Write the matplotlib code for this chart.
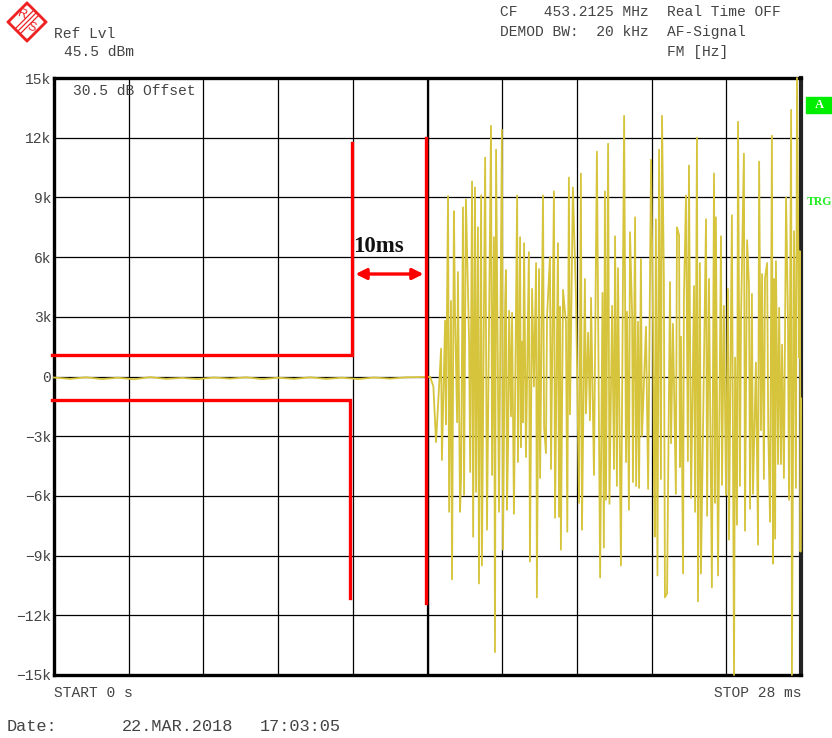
import numpy as np
import matplotlib.pyplot as plt
from matplotlib.patches import Polygon, Rectangle

# ── data (time in ms, deviation in kHz) ──────────────────────────────────────
quiet_t = [0.0, 0.6, 1.2, 1.8, 2.4, 3.0, 3.6, 4.2, 4.8, 5.4, 6.0, 6.6, 7.2,
           7.8, 8.4, 9.0, 9.6, 10.2, 10.8, 11.4, 12.0, 12.6, 13.2, 13.6, 14.1]
quiet_v = [-0.05, -0.12, -0.04, -0.13, -0.06, -0.14, -0.03, -0.12, -0.07,
           -0.13, -0.05, -0.11, -0.04, -0.13, -0.06, -0.12, -0.04, -0.12,
           -0.06, -0.13, -0.05, -0.11, -0.04, -0.03, -0.02]

pos_t = [14.51, 14.66, 14.77, 14.88, 14.99, 15.03, 15.14, 15.33, 15.44, 15.56,
         15.67, 15.78, 15.89, 16.01, 16.16, 16.38, 16.49, 16.57, 16.79, 16.91,
         16.94, 17.06, 17.17, 17.36, 17.47, 17.54, 17.62, 17.80, 17.92, 18.07,
         18.18, 18.33, 18.48, 18.59, 18.74, 18.89, 18.97, 19.08, 19.19, 19.30,
         19.45, 19.57, 19.75, 19.90, 20.02, 20.13, 20.35, 20.56, 20.65, 20.77,
         20.92, 21.03, 21.14, 21.37, 21.48, 21.59, 21.67, 21.78, 21.89, 22.00,
         22.19, 22.38, 22.45, 22.56, 22.68, 22.79, 22.86, 23.09, 23.20, 23.35,
         23.43, 23.50, 23.61, 23.69, 23.80, 23.99, 24.10, 24.21, 24.44, 24.55,
         24.74, 24.81, 25.00, 25.11, 25.26, 25.41, 25.53, 25.64, 25.75, 25.86,
         25.98, 26.05, 26.16, 26.31, 26.43, 26.54, 26.65, 26.73, 26.91, 26.99,
         27.06, 27.18, 27.29, 27.44, 27.51, 27.63, 27.74, 27.85, 27.93, 27.96]
pos_v = [1.4, 2.8, 9.07, 3.8, 8.3, 3.3, 5.25, 8.5, 8.9, 1.7,
         9.8, 9.5, 7.5, 9.1, 11.0, 12.6, 7.0, 11.4, 12.4, 3.7,
         5.35, 3.3, 3.2, 9.1, 7.0, 1.75, 6.7, 6.25, 4.4, 5.7,
         5.4, 9.1, 3.0, 6.0, 9.3, 6.7, 3.5, 4.35, 2.7, 10.0,
         9.5, 3.75, 10.2, 4.9, 2.2, 3.95, 11.3, 4.2, 9.3, 11.7,
         3.55, 7.05, 5.45, 13.1, 3.25, 7.25, 3.1, 8.0, 2.75, 5.9,
         2.5, 10.9, 3.2, 7.9, 11.4, 13.1, 4.9, 4.75, 2.65, 7.5,
         7.1, 2.0, 3.8, 9.1, 10.6, 4.55, 12.0, 5.7, 7.9, 4.9,
         10.2, 8.0, 7.05, 3.55, 4.4, 8.1, 0.95, 12.8, 2.75, 11.2,
         6.85, 4.6, 4.15, 0.7, 10.8, 5.15, 4.95, 5.7, 12.1, 4.9,
         5.8, 3.45, 1.6, 9.0, 3.0, 13.4, 7.3, 15.0, 0.95, 6.3]

neg_t = [14.22, 14.32, 14.54, 14.69, 14.81, 14.92, 15.11, 15.22, 15.26, 15.37,
         15.60, 15.71, 15.82, 15.93, 16.04, 16.23, 16.42, 16.53, 16.68, 16.83,
         16.98, 17.02, 17.13, 17.24, 17.39, 17.50, 17.58, 17.69, 17.84, 17.99,
         18.10, 18.22, 18.37, 18.44, 18.63, 18.78, 18.93, 19.00, 19.24, 19.34,
         19.68, 19.79, 19.94, 20.09, 20.24, 20.47, 20.61, 20.69, 20.82, 20.99,
         21.10, 21.25, 21.44, 21.55, 21.70, 21.82, 21.93, 22.04, 22.27, 22.49,
         22.52, 22.62, 22.75, 22.90, 22.98, 23.13, 23.31, 23.46, 23.58, 23.76,
         23.88, 24.03, 24.14, 24.25, 24.48, 24.66, 24.78, 24.89, 25.04, 25.19,
         25.30, 25.49, 25.60, 25.71, 25.90, 26.09, 26.20, 26.39, 26.50, 26.61,
         26.77, 26.84, 26.95, 27.03, 27.14, 27.25, 27.36, 27.55, 27.66, 27.81,
         27.98, 28.0]
neg_v = [-0.5, -3.3, -4.2, -2.4, -6.8, -10.2, -2.3, -6.8, -5.05, -5.95,
         -4.8, -8.05, -5.8, -10.4, -9.5, -7.7, -4.95, -13.85, -6.8, -8.7,
         -6.7, -3.55, -2.0, -6.9, -4.3, -3.55, -2.3, -4.05, -9.3, -0.5,
         -11.1, -5.1, -2.55, -3.85, -4.65, -7.1, -7.05, -8.7, -7.8, -1.9,
         -6.35, -7.7, -1.85, -2.2, -4.95, -10.1, -8.6, -6.2, -6.4, -4.65,
         -5.5, -9.5, -4.3, -6.7, -5.3, -5.5, -5.6, -3.0, -5.65, -5.2,
         -8.05, -10.0, -5.15, -11.1, -10.9, -3.35, -5.9, -4.55, -9.9, -4.25,
         -6.1, -6.8, -11.3, -9.9, -7.0, -10.6, -6.35, -10.0, -5.45, -5.95,
         -8.2, -15.0, -7.45, -5.5, -7.75, -6.65, -5.9, -8.45, -2.7, -5.15,
         -2.45, -7.3, -9.4, -8.15, -4.4, -4.4, -5.1, -6.2, -15.0, -5.6,
         -8.8, -1.1]

# red limit lines / markers (ms, kHz)
upper_t = [-0.07, 11.17, 11.17]
upper_v = [1.08, 1.08, 11.73]
lower_t = [-0.07, 11.09, 11.09]
lower_v = [-1.18, -1.18, -11.13]
mark2_t = [13.94, 13.94]
mark2_v = [12.0, -11.38]
arrow_t = (11.30, 13.85)
arrow_v = 5.15

yticks = [15, 12, 9, 6, 3, 0, -3, -6, -9, -12, -15]
ylabels = ['15k', '12k', '9k', '6k', '3k', '0',
           '\u22123k', '\u22126k', '\u22129k', '\u221212k', '\u221215k']

W, H = 832, 738
MONO = 'Liberation Mono'
TXT = '#444444'
TRACE = '#d6c43c'


def fx(px):
    return px / W


def fy(py):
    return 1 - py / H


fig = plt.figure(figsize=(W / 100, H / 100), dpi=100)
ax = fig.add_axes([fx(54), fy(675), fx(801) - fx(54), fy(78) - fy(675)])
ax.set_xlim(0, 28)
ax.set_ylim(-15, 15)

# grid
ax.set_xticks(np.linspace(0, 28, 11))
ax.set_yticks(yticks)
ax.set_yticklabels(ylabels, family=MONO, fontsize=10.5, color=TXT)
ax.tick_params(axis='y', length=0, pad=2)
ax.tick_params(axis='x', length=0, labelbottom=False)
ax.grid(True, color='black', lw=0.9)
ax.axvline(14, color='black', lw=1.6, zorder=1)
for s in ['left', 'top', 'bottom']:
    ax.spines[s].set_linewidth(2.4)
ax.spines['right'].set_linewidth(3.0)
ax.spines['right'].set_color('#222222')

# trace
tr_t = np.array(quiet_t + pos_t + neg_t)
tr_v = np.array(quiet_v + pos_v + neg_v)
order = np.argsort(tr_t, kind='stable')
ax.plot(tr_t[order], tr_v[order], color=TRACE, lw=1.3, zorder=3, clip_on=False)

# red markers
red = '#ff0000'
ax.plot(upper_t, upper_v, color=red, lw=2.4, zorder=4, clip_on=False,
        solid_joinstyle='miter')
ax.plot(lower_t, lower_v, color=red, lw=2.4, zorder=4, clip_on=False,
        solid_joinstyle='miter')
ax.plot(mark2_t, mark2_v, color=red, lw=2.4, zorder=4)
ax.annotate('', xy=(arrow_t[1], arrow_v), xytext=(arrow_t[0], arrow_v),
            arrowprops=dict(arrowstyle='<|-|>', color=red, lw=2.4,
                            mutation_scale=16, shrinkA=0, shrinkB=0), zorder=5)
ax.text(11.22, 6.55, '10ms', family='Liberation Serif', fontweight='bold',
        fontsize=16.5, va='center', ha='left', color='#111111', zorder=5)

# header / footer texts
kw = dict(family=MONO, fontsize=10.5, color=TXT, va='baseline')
fig.text(fx(54), fy(38.5), 'Ref Lvl', **kw)
fig.text(fx(64), fy(56), '45.5 dBm', **kw)
fig.text(fx(500), fy(16), 'CF   453.2125 MHz', **kw)
fig.text(fx(500), fy(36), 'DEMOD BW:  20 kHz', **kw)
fig.text(fx(667), fy(16), 'Real Time OFF', **kw)
fig.text(fx(667), fy(36), 'AF-Signal', **kw)
fig.text(fx(667), fy(56), 'FM [Hz]', **kw)
fig.text(fx(73), fy(95), '30.5 dB Offset', **kw)
fig.text(fx(54), fy(697), 'START 0 s', **kw)
fig.text(fx(801), fy(697), 'STOP 28 ms', ha='right', **kw)
kw_date = dict(kw, fontsize=12.2)
fig.text(fx(7), fy(731), 'Date:', **kw_date)
fig.text(fx(122), fy(731), '22.MAR.2018', **kw_date)
fig.text(fx(260), fy(731), '17:03:05', **kw_date)

# right side indicators
fig.patches.append(Rectangle((fx(806), fy(113)), fx(26), fy(97) - fy(113),
                             transform=fig.transFigure, color='#00ee00'))
fig.text(fx(819), fy(105), 'A', family='Liberation Serif', fontweight='bold',
         fontsize=9, color='white', ha='center', va='center')
fig.text(fx(807), fy(205), 'TRG', family='Liberation Serif', fontweight='bold',
         fontsize=8.5, color='#22ee22', va='baseline')

# R&S logo
cx, cy, r = 27, 22, 20
outer = [(fx(cx), fy(cy - r)), (fx(cx + r), fy(cy)),
         (fx(cx), fy(cy + r)), (fx(cx - r), fy(cy))]
ri = r - 4
inner = [(fx(cx), fy(cy - ri)), (fx(cx + ri), fy(cy)),
         (fx(cx), fy(cy + ri)), (fx(cx - ri), fy(cy))]
fig.patches.append(Polygon(outer, closed=True, transform=fig.transFigure,
                           color='#ee2222'))
fig.patches.append(Polygon(inner, closed=True, transform=fig.transFigure,
                           color='white'))
for off in (-2.5, 0, 2.5):
    fig.add_artist(plt.Line2D([fx(cx - 9 + off), fx(cx + 9 + off)],
                              [fy(cy + 9 + off), fy(cy - 9 + off)],
                              transform=fig.transFigure, color='#ee2222', lw=0.9))
fig.text(fx(cx - 5), fy(cy - 7), 'R', family='Liberation Sans', fontsize=9,
         color='#ee2222', ha='center', va='center', rotation=-20)
fig.text(fx(cx + 4), fy(cy + 6), 'S', family='Liberation Sans', fontsize=9,
         color='#ee2222', ha='center', va='center', rotation=-20)

fig.savefig('out.png', dpi=100)
